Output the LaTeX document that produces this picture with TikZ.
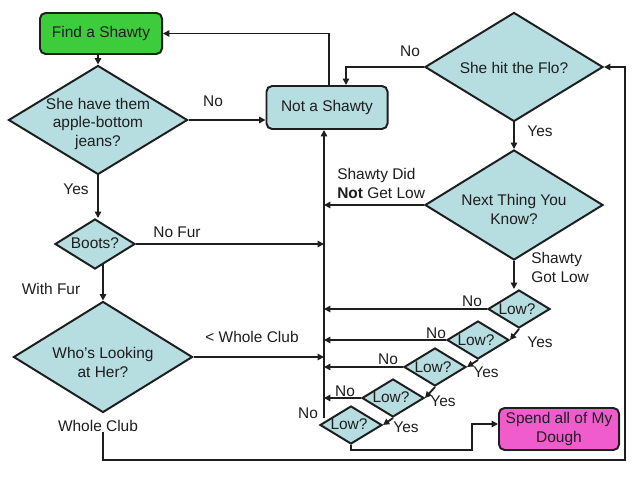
\documentclass[tikz,border=0pt]{standalone}
\usepackage{fontspec}
\setmainfont{Liberation Sans}
\usetikzlibrary{shapes.geometric,arrows.meta,calc,backgrounds}
\definecolor{dfill}{RGB}{182,221,224}
\definecolor{gfill}{RGB}{60,204,60}
\definecolor{pfill}{RGB}{240,92,204}
\definecolor{ink}{RGB}{30,30,30}
\begin{document}
\begin{tikzpicture}[x=0.025cm,y=-0.025cm,
  font=\fontsize{11}{13.5}\selectfont,
  ln/.style={draw=ink, line width=1.3pt},
  arr/.style={ln, -{Triangle[length=4.5pt,width=4.5pt]}},
  dia/.style={diamond, draw=ink, fill=dfill, line width=1.4pt, inner sep=0pt},
  lowdia/.style={dia, minimum width=1.55cm, minimum height=0.95cm},
  box/.style={rectangle, rounded corners=4pt, draw=ink, line width=1.4pt, inner sep=0pt, text=ink, align=center},
  txt/.style={text=ink, inner sep=0pt, align=center}
]
\useasboundingbox (0,0) rectangle (640,480);

% boxes
\node[box, fill=gfill, minimum width=3.05cm, minimum height=1.025cm] (find) at (101,33.5) {Find a Shawty};
\node[box, fill=dfill, minimum width=3.025cm, minimum height=1.075cm] (ns) at (327,107.5) {Not a Shawty};
\node[box, fill=pfill, minimum width=3.0cm, minimum height=1.05cm] (spend) at (559,429) {Spend all of My\\Dough};

% diamonds
\node[dia, minimum width=4.475cm, minimum height=2.725cm] (d1) at (98,120) {};
\node[txt] (d1t) at (98,124) {She have them\\apple-bottom\\jeans?};
\node[dia, minimum width=2cm, minimum height=1.25cm] (boots) at (95,244) {};
\node[txt] (bootst) at (95,243) {Boots?};
\node[dia, minimum width=4.475cm, minimum height=2.775cm] (wl) at (103,357) {};
\node[txt] (wlt) at (103,362) {Who's Looking\\at Her?};
\node[dia, minimum width=4.45cm, minimum height=2.725cm] (flo) at (514,67) {};
\node[txt] (flot) at (514,68) {She hit the Flo?};
\node[dia, minimum width=4.45cm, minimum height=2.75cm] (ntyk) at (514,205) {};
\node[txt] (ntykt) at (514,209) {Next Thing You\\Know?};

\node[lowdia] (low1) at (519,309) {};
\node[txt] (low1t) at (517,309) {Low?};
\node[lowdia] (low2) at (478,340) {};
\node[txt] (low2t) at (476,340) {Low?};
\node[lowdia] (low3) at (435,367) {};
\node[txt] (low3t) at (433,367) {Low?};
\node[lowdia] (low4) at (393,398) {};
\node[txt] (low4t) at (391,397) {Low?};
\node[lowdia] (low5) at (351,425) {};
\node[txt] (low5t) at (349,424) {Low?};

% labels
\node[txt] (lno1) at (213,101) {No};
\node[txt] (lyes1) at (76,189) {Yes};
\node[txt] (lnofur) at (177,232) {No Fur};
\node[txt] (lwithfur) at (51,289) {With Fur};
\node[txt] (llt) at (252,337) {< Whole Club};
\node[txt] (wc) at (98,426) {Whole Club};
\node[txt] (lno2) at (410,51) {No};
\node[txt] (lyes2) at (540,131) {Yes};
\node[txt, anchor=west, align=left] (lnotlow) at (337,183) {Shawty Did\\\textbf{Not} Get Low};
\node[txt, anchor=west, align=left] (lgotlow) at (531,267) {Shawty\\Got Low};
\node[txt] (ln1) at (472,301) {No};
\node[txt] (ln2) at (436,333) {No};
\node[txt] (ln3) at (388,359) {No};
\node[txt] (ln4) at (345,391) {No};
\node[txt] (ln5) at (308,413) {No};
\node[txt] (ly1) at (540,342) {Yes};
\node[txt] (ly2) at (486,372) {Yes};
\node[txt] (ly3) at (443,401) {Yes};
\node[txt] (ly4) at (406,427) {Yes};

% coordinates
\coordinate (tk) at (324,418);
\coordinate (br) at (625,460);
\coordinate (sp) at (472,450);

% connectors
\draw[arr] (find.south -| d1.north) -- (d1.north);
\draw[arr] (d1.east) -- (d1.east -| ns.west);
\draw[arr] (d1.south) -- (d1.south |- boots.north);
\draw[arr] (boots.east) -- (boots.east -| tk);
\begin{scope}[on background layer]
\fill[white] (0,0) rectangle (640,480);
\draw[arr] (wl.north |- boots.center) -- (wl.north);
\end{scope}
\draw[arr] (wl.east) -- (wl.east -| tk);
\draw[arr] (wc.south -| wl.south) |- (br) |- (flo.east);
\draw[arr] (flo.west) -| ($(ns.north)+(19,0)$);
\draw[arr] (flo.south) -- (ntyk.north);
\draw[arr] (ntyk.west) -- (ntyk.west -| tk);
\draw[arr] (tk) -- (tk |- ns.south);
\draw[arr] ($(ns.north)+(2,0)$) |- (find.east);
\draw[arr] (ntyk.south) -- (ntyk.south |- low1.north);
\draw[arr] (low1.west) -- (low1.west -| tk);
\draw[arr] (low2.west) -- (low2.west -| tk);
\draw[arr] (low3.west) -- (low3.west -| tk);
\draw[arr] (low4.west) -- (low4.west -| tk);
\draw[arr] (low1.south) -- (low2.east);
\draw[arr] (low2.south) -- (low3.east);
\draw[arr] (low3.south) -- (low4.east);
\draw[arr] (low4.south) -- (low5.east);
\draw[arr] (low5.south) |- (sp) |- ($(spend.west)+(0,-5)$);
\end{tikzpicture}
\end{document}
